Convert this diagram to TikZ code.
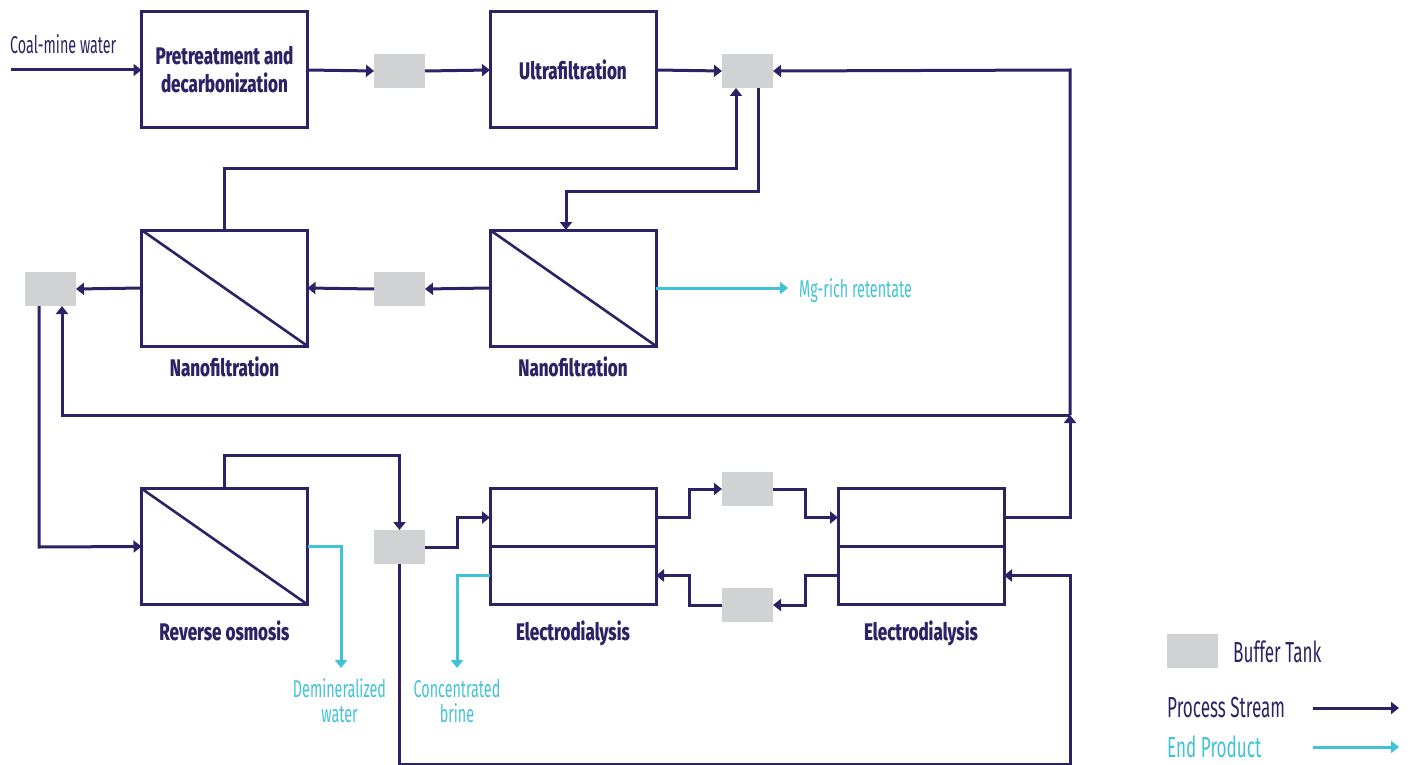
\documentclass[tikz,border=0pt]{standalone}
\usepackage{fontspec}
\usetikzlibrary{arrows.meta}
\newfontfamily\lightf[FakeStretch=0.59]{Fira Sans}
\newfontfamily\boldf[FakeStretch=0.71]{Fira Sans ExtraBold}
\definecolor{navy}{HTML}{2E2266}
\definecolor{aqua}{HTML}{41C3D7}
\definecolor{tankgray}{HTML}{D1D2D4}
\tikzset{
  unitbox/.style={draw=navy,line width=3pt,fill=white,minimum width=166pt,minimum height=116pt,inner sep=0pt,outer sep=0pt,align=center,text=navy,font=\boldf\fontsize{24}{28}\selectfont},
  halfbox/.style={unitbox,minimum height=58pt},
  tank/.style={fill=tankgray,minimum width=51pt,minimum height=34pt,inner sep=0pt,outer sep=0pt},
  unitlabel/.style={text=navy,inner sep=0pt,anchor=base,font=\boldf\fontsize{24}{26}\selectfont},
  thinlabel/.style={inner sep=0pt,align=center,font=\lightf\fontsize{24.3}{25}\selectfont},
  biglabel/.style={inner sep=0pt,anchor=west,font=\lightf\fontsize{29}{30}\selectfont},
  flow/.style={draw=navy,line width=3pt,-{Triangle[length=8pt,width=12pt]}},
  product/.style={draw=aqua,line width=3pt,-{Triangle[length=8pt,width=12pt]}},
  membrane/.style={draw=navy,line width=2.6pt}
}
\begin{document}
\begin{tikzpicture}[x=1pt,y=-1pt]
\useasboundingbox (0,0) rectangle (1413,765);
% units
\node[unitbox] (pre) at (224.5,70) {Pretreatment and\\decarbonization};
\node[unitbox] (uf) at (573,70) {Ultrafiltration};
\node[unitbox] (nfl) at (224.5,288) {};
\node[unitbox] (nfr) at (573,288) {};
\node[unitbox] (ro) at (224.5,546.5) {};
\node[halfbox] (eda) at (573,517.5) {};
\node[halfbox] (edb) at (573,575.5) {};
\node[halfbox] (eca) at (921,517.5) {};
\node[halfbox] (ecb) at (921,575.5) {};
\draw[membrane] (nfl.north west) -- (nfl.south east);
\draw[membrane] (nfr.north west) -- (nfr.south east);
\draw[membrane] (ro.north west) -- (ro.south east);
% tanks
\node[tank] (t1) at (399.5,71) {};
\node[tank] (t2) at (747.5,71) {};
\node[tank] (t3) at (399.5,289) {};
\node[tank] (t4) at (50.5,289) {};
\node[tank] (t5) at (399.5,547) {};
\node[tank] (t6) at (747.5,489) {};
\node[tank] (t7) at (747.5,605) {};
\node[tank] (legtank) at (1192.5,651) {};
% labels
\node[unitlabel] (lnfl) at (224.5,376) {Nanofiltration};
\node[unitlabel] (lnfr) at (573,376) {Nanofiltration};
\node[unitlabel] (lro) at (224.5,640) {Reverse osmosis};
\node[unitlabel] (led1) at (573,640) {Electrodialysis};
\node[unitlabel] (led2) at (921,640) {Electrodialysis};
\node[thinlabel,text=navy,anchor=west] (coal) at (10,44) {Coal-mine water};
\node[thinlabel,text=aqua,anchor=west] (mg) at (799,291) {Mg-rich retentate};
\node[thinlabel,text=aqua] (dw) at (339.5,701) {Demineralized\\water};
\node[thinlabel,text=aqua] (cb) at (457,701) {Concentrated\\brine};
\node[biglabel,text=navy] (lbt) at (1233,652) {Buffer Tank};
\node[biglabel,text=navy] (lps) at (1167,708) {Process Stream};
\node[biglabel,text=aqua] (lep) at (1167,747) {End Product};
% free ends
\coordinate (coalin) at (11,70);
\coordinate (mgend) at (788,288);
\coordinate (dwend) at (341,668);
\coordinate (cbend) at (457,668);
\coordinate (legps1) at (1313,708);
\coordinate (legps2) at (1399,708);
\coordinate (legep1) at (1313,747);
\coordinate (legep2) at (1399,747);
\coordinate (junc) at (1070,415);
% top row
\draw[flow] (coalin) -- (pre.west);
\draw[flow] (pre.east) -- (t1.west);
\draw[flow] (t1.east) -- (uf.west);
\draw[flow] (uf.east) -- (t2.west);
% returns
\draw[flow] (junc) -- (1070,70) -- (t2.east);
\draw[flow] (junc) -- (62,415) -- (62,306);
\draw[flow] (nfl.north) -- (224.5,168) -- (736,168) -- (736,88);
\draw[flow] (758,88) -- (758,191) -- (566,191) -- (566,230);
% nf row
\draw[flow] (nfr.west) -- (t3.east);
\draw[flow] (t3.west) -- (nfl.east);
\draw[flow] (nfl.west) -- (t4.east);
\draw[product] (nfr.east) -- (mgend);
% ro row
\draw[flow] (39,306) -- (39,547) -- (ro.west);
\draw[flow] (ro.north) -- (224.5,455) -- (399.5,455) -- (t5.north);
\draw[product] (ro.east) -- (341,546.5) -- (dwend);
\draw[flow] (t5.east) -- (457,547) -- (457,517.5) -- (eda.west);
\draw[flow] (t5.south) -- (399.5,764) -- (1070,764) -- (1070,575.5) -- (ecb.east);
\draw[product] (edb.west) -- (457,575.5) -- (cbend);
% ed links
\draw[flow] (eda.east) -- (689,517.5) -- (689,489) -- (t6.west);
\draw[flow] (t6.east) -- (805,489) -- (805,517.5) -- (eca.west);
\draw[flow] (ecb.west) -- (805,575.5) -- (805,605) -- (t7.east);
\draw[flow] (t7.west) -- (689,605) -- (689,575.5) -- (edb.east);
\draw[flow] (eca.east) -- (1070,517.5) -- (junc);
% legend
\draw[flow] (legps1) -- (legps2);
\draw[product] (legep1) -- (legep2);
\end{tikzpicture}
\end{document}
